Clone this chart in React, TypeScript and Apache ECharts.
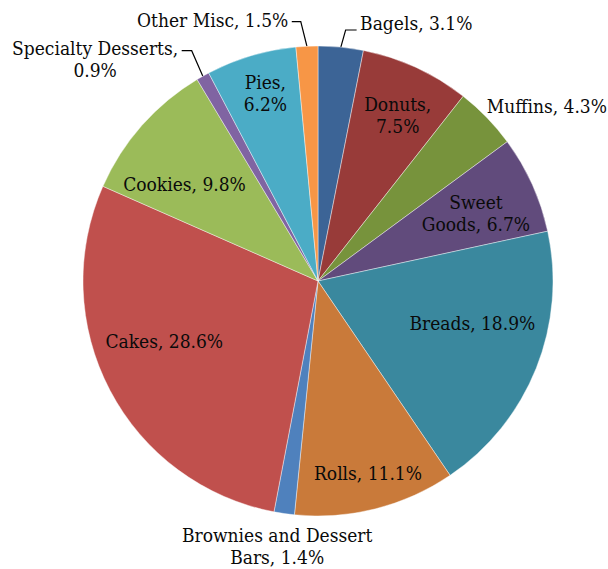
import React, { useEffect, useRef } from 'react';
import * as echarts from 'echarts';

// ---- data ----
const categories = [
  'Bagels', 'Donuts', 'Muffins', 'Sweet Goods', 'Breads', 'Rolls',
  'Brownies and Dessert Bars', 'Cakes', 'Cookies', 'Specialty Desserts', 'Pies', 'Other Misc',
];
const shares = [3.1, 7.5, 4.3, 6.7, 18.9, 11.1, 1.4, 28.6, 9.8, 0.9, 6.2, 1.5];
// where each label wraps: 0 = one line, -1 = before the value, n = after n words
const labelBreak = [0, -1, 0, 1, 0, 0, 3, 0, 0, -1, -1, 0];

// ---- styling / layout ----
const colors = [
  '#3C6496', '#983B39', '#77933C', '#614B7C', '#3A889E', '#C97A3A',
  '#4F81BD', '#C0504D', '#9BBB59', '#8064A2', '#4BACC6', '#F79646',
];
const CX = 318;
const CY = 281;
const R = 235;
const FONT_SIZE = 19;
const FONT_FAMILY = '"DejaVu Serif Condensed", "Liberation Serif", serif';
const LINE_H = 22;

type Place =
  | { mode: 'in'; da: number; r: number }
  | { mode: 'text'; dx: number; dy: number; align: 'left' | 'center' | 'right' }
  | { mode: 'line'; da: number; len: number; len2: number; gap: number; dy: number };

const PLACE: Place[] = [
  { mode: 'line', da: 0.7, len: 17.5, len2: 11, gap: 3.5, dy: -7 }, // Bagels
  { mode: 'in', da: 1.0, r: 184 }, // Donuts
  { mode: 'text', dx: 0, dy: -11, align: 'left' }, // Muffins
  { mode: 'in', da: 1.0, r: 172 }, // Sweet Goods
  { mode: 'in', da: -6.5, r: 160 }, // Breads
  { mode: 'in', da: -0.4, r: 198 }, // Rolls
  { mode: 'text', dx: -7, dy: 32, align: 'center' }, // Brownies
  { mode: 'in', da: 6.4, r: 165 }, // Cakes
  { mode: 'in', da: -5.4, r: 165 }, // Cookies
  { mode: 'line', da: 0.6, len: 27.7, len2: -10, gap: 3.5, dy: 8 }, // Specialty
  { mode: 'in', da: 0.9, r: 195 }, // Pies
  { mode: 'line', da: -1.1, len: 25, len2: -9, gap: 3.5, dy: -2 }, // Other Misc
];

function labelText(i: number): string {
  const name = categories[i];
  const v = shares[i].toFixed(1) + '%';
  const b = labelBreak[i];
  if (b === -1) return `${name},\n${v}`;
  if (b > 0) {
    const words = `${name}, ${v}`.split(' ');
    return words.slice(0, b).join(' ') + '\n' + words.slice(b).join(' ');
  }
  return `${name}, ${v}`;
}

const total = shares.reduce((a, b) => a + b, 0);
const midAngles: number[] = (() => {
  let cum = 0;
  return shares.map((v) => {
    const m = ((cum + v / 2) / total) * 360;
    cum += v;
    return m;
  });
})();

function polar(deg: number, r: number): [number, number] {
  const a = (deg * Math.PI) / 180;
  return [CX + r * Math.sin(a), CY - r * Math.cos(a)];
}

let measureCtx: CanvasRenderingContext2D | null = null;
function textWidth(s: string): number {
  if (!measureCtx) measureCtx = document.createElement('canvas').getContext('2d');
  if (!measureCtx) return s.length * FONT_SIZE * 0.5;
  measureCtx.font = `${FONT_SIZE}px ${FONT_FAMILY}`;
  return Math.max(...s.split('\n').map((l) => measureCtx!.measureText(l).width));
}

export default function App() {
  const ref = useRef<HTMLDivElement>(null);
  useEffect(() => {
    if (!ref.current) return;
    const chart = echarts.init(ref.current, null, { renderer: 'svg' });
    const data = categories.map((name, i) => {
      const p = PLACE[i];
      const inside = p.mode === 'in';
      return {
        name,
        value: shares[i],
        itemStyle: { color: colors[i] },
        label: { position: inside ? 'inside' : 'outside' },
        labelLine: { show: p.mode === 'line' },
      };
    });
    chart.setOption({
      animation: false,
      backgroundColor: '#ffffff',
      series: [
        {
          type: 'pie',
          center: [CX, CY],
          radius: R,
          startAngle: 90,
          clockwise: true,
          avoidLabelOverlap: false,
          emphasis: { disabled: true },
          itemStyle: { borderColor: 'rgba(255,255,255,0.7)', borderWidth: 0.6 },
          label: {
            show: true,
            formatter: (p: any) => labelText(p.dataIndex),
            fontFamily: FONT_FAMILY,
            fontSize: FONT_SIZE,
            lineHeight: LINE_H,
            color: '#0a0a0a',
            overflow: 'none',
            alignTo: 'none',
          },
          labelLine: {
            show: true,
            length: 10,
            length2: 10,
            smooth: false,
            lineStyle: { color: '#000000', width: 1.2 },
          },
          labelLayout: (params: any) => {
            const i = params.dataIndex;
            const p = PLACE[i];
            const mid = midAngles[i];
            if (p.mode === 'in') {
              const [x, y] = polar(mid + p.da, p.r);
              return { x, y, align: 'center', verticalAlign: 'middle' };
            }
            if (p.mode === 'text') {
              const [ex, ey] = polar(mid, R);
              return { x: ex + p.dx, y: ey + p.dy, align: p.align, verticalAlign: 'middle' };
            }
            const s = polar(mid, R);
            const e = polar(mid + p.da, R + p.len);
            const end: [number, number] = [e[0] + p.len2, e[1]];
            const w = textWidth(labelText(i));
            const tx = p.len2 > 0 ? end[0] + p.gap + w / 2 : end[0] - p.gap - w / 2;
            return {
              x: tx,
              y: end[1] + p.dy,
              align: 'center',
              verticalAlign: 'middle',
              labelLinePoints: [s, e, end],
            };
          },
          data,
        },
      ],
    });
    return () => chart.dispose();
  }, []);
  return (
    <div
      ref={ref}
      style={{ position: 'absolute', left: 0, top: 0, width: 608, height: 569 }}
    />
  );
}
